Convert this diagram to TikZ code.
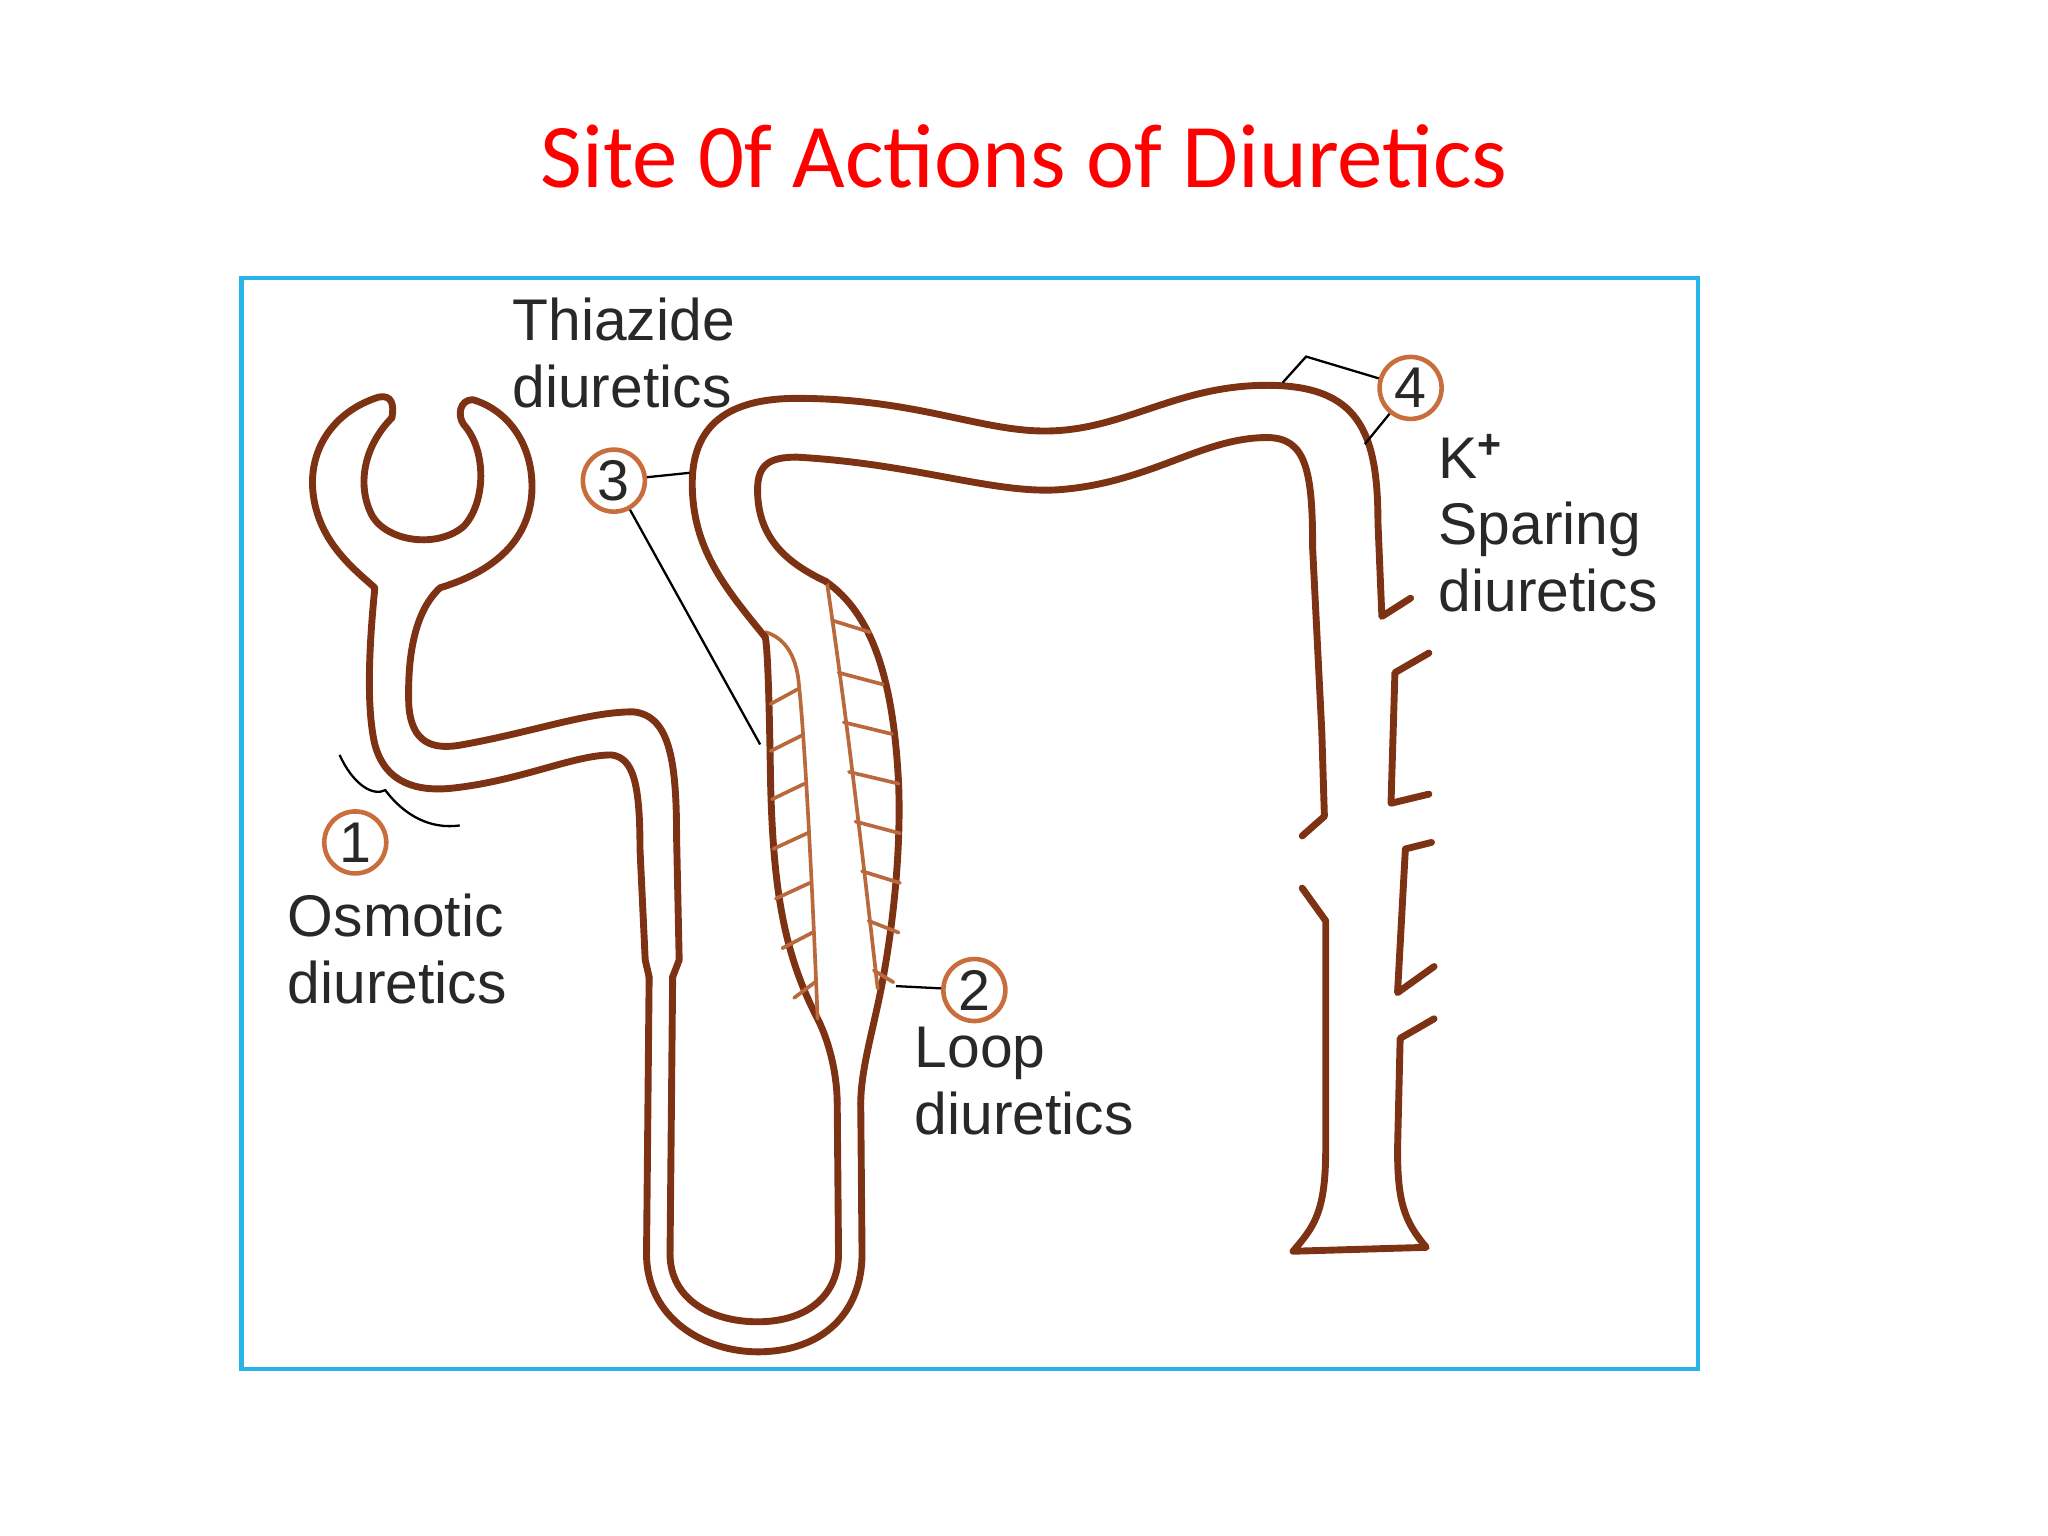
\documentclass[tikz,border=0pt]{standalone}
\usepackage{fontspec}
\setmainfont{Liberation Sans}
\newfontfamily\titlefont{Carlito}
\begin{document}
\begin{tikzpicture}[x=0.01cm,y=-0.01cm,
  brn/.style={draw=tubec,line width=1.5pt,line cap=round,line join=round},
  thin/.style={draw=tubel,line width=0.8pt,line cap=round},
  num/.style={circle,draw=numc,line width=1pt,minimum size=13.5pt,inner sep=0pt,font=\fontsize{12.5}{12}\selectfont,text=txt},
  lbl/.style={font=\fontsize{12.8}{14.5}\selectfont,text=txt,align=left},
  lead/.style={draw=black,line width=0.5pt}]
\definecolor{tubec}{RGB}{125,50,20}
\definecolor{tubel}{RGB}{185,105,60}
\definecolor{numc}{RGB}{200,110,60}
\definecolor{txt}{RGB}{40,40,40}
\definecolor{frm}{RGB}{40,180,230}
\useasboundingbox (0,0) rectangle (1568,1176);
\node[text=red,font=\titlefont\fontsize{19.8}{22}\selectfont] (title) at (784,120) {Site 0f Actions of Diuretics};
\draw[frm,line width=1pt] (185,213) rectangle (1300,1048);
% capsule + neck + proximal, outlines
\draw[brn] (300,320) .. controls (302,310) and (300,302) .. (290,304)
  .. controls (255,315) and (235,345) .. (240,380)
  .. controls (245,415) and (270,435) .. (287,450)
  .. controls (283,490) and (280,540) .. (287,570)
  .. controls (295,600) and (320,607) .. (350,603)
  .. controls (400,597) and (440,578) .. (468,578)
  .. controls (485,580) and (490,600) .. (490,650) -- (494,735) -- (497,748);
\draw[brn] (300,320) .. controls (280,340) and (272,370) .. (285,395)
  .. controls (297,415) and (335,420) .. (355,403)
  .. controls (372,385) and (373,345) .. (355,325)
  .. controls (350,318) and (352,306) .. (362,306)
  .. controls (392,315) and (410,345) .. (407,380)
  .. controls (403,420) and (370,440) .. (337,450)
  .. controls (315,470) and (312,510) .. (313,540)
  .. controls (315,568) and (330,575) .. (355,570)
  .. controls (410,560) and (450,545) .. (485,545)
  .. controls (512,548) and (518,580) .. (518,640) -- (520,735) -- (515,748);
% descending thin limb + loop
\draw[brn] (497,748) -- (495,960) .. controls (495,1010) and (540,1035) .. (580,1035)
  .. controls (630,1035) and (660,1005) .. (660,960) -- (659,845);
\draw[brn] (515,748) -- (513,960) .. controls (513,995) and (545,1012) .. (580,1012)
  .. controls (620,1012) and (642,990) .. (642,960) -- (641,845);
% thick ascending limb
\draw[brn] (641,845) .. controls (641,825) and (636,800) .. (626,780)
  .. controls (600,730) and (592,680) .. (590,600) .. controls (589,540) and (588,500) .. (586,488);
\draw[brn] (659,845) .. controls (659,820) and (668,790) .. (674,760)
  .. controls (684,710) and (690,650) .. (688,600) .. controls (684,520) and (668,470) .. (632,445);
\draw[thin] (586,484) .. controls (600,488) and (608,500) .. (611,518)
  .. controls (616,560) and (622,680) .. (626,780);
\draw[thin] (633,445) .. controls (650,560) and (662,670) .. (672,757);
\foreach \ya/\xa/\yb/\xb in {539/590/527/612, 575/590/563/614, 612/591/600/616, 650/592/638/618, 688/594/676/620, 726/599/714/622, 762/608/752/624}
  \draw[thin] (\xa,\yb+12) -- (\xb,\yb);
\foreach \yi/\xi/\xo in {475/637/666, 515/642/676, 553/646/683, 591/650/688, 629/655/689, 667/660/689, 705/665/688, 743/669/684}
  \draw[thin] (\xi,\yi) -- (\xo,\yi+9);
% distal tubule
\draw[brn] (586,488) .. controls (555,450) and (530,420) .. (530,370)
  .. controls (530,320) and (565,305) .. (610,305)
  .. controls (700,305) and (750,330) .. (800,330)
  .. controls (860,330) and (900,295) .. (970,295)
  .. controls (1040,295) and (1055,330) .. (1055,400) -- (1058,472) -- (1080,458);
\draw[brn] (632,445) .. controls (600,430) and (580,410) .. (580,375)
  .. controls (580,355) and (590,350) .. (610,350)
  .. controls (700,355) and (760,378) .. (810,375)
  .. controls (880,370) and (920,335) .. (970,335)
  .. controls (1000,335) and (1005,360) .. (1005,420) -- (1012,560) -- (1014,625) -- (997,640);
% collecting duct
\draw[brn] (997,680) -- (1015,705) -- (1015,880) .. controls (1015,930) and (1005,940) .. (990,958) -- (1092,955)
  .. controls (1075,935) and (1070,920) .. (1070,880) -- (1072,795) -- (1098,780);
\draw[brn] (1094,500) -- (1068,515) -- (1065,615) -- (1094,608);
\draw[brn] (1096,645) -- (1076,650) -- (1070,760) -- (1098,740);
% labels
\node[num] (n1) at (272,645) {1};
\node[num] (n2) at (746,758) {2};
\node[num] (n3) at (470,368) {3};
\node[num] (n4) at (1080,297) {4};
\node[lbl,anchor=north west] (l1) at (208,672) {Osmotic\\diuretics};
\node[lbl,anchor=north west] (l2) at (688,774) {Loop\\diuretics};
\node[lbl,anchor=north west] (l3) at (380,216) {Thiazide\\diuretics};
\node[lbl,anchor=north west] (l4) at (1089,320) {K\textsuperscript{\textbf{+}}\\Sparing\\diuretics};
\coordinate (c3a) at (528,362);
\coordinate (c3b) at (582,570);
\coordinate (c2) at (686,755);
\draw[lead] (n3) -- (c3a);
\draw[lead] (n3) -- (c3b);
\draw[lead] (n2) -- (c2);
\draw[lead] (n4) -- (1000,273) -- (982,293);
\draw[lead] (n4) -- (1045,340);
\draw[lead] (260,578) .. controls (270,600) and (285,610) .. (295,605) .. controls (310,625) and (330,635) .. (352,632);
\end{tikzpicture}
\end{document}
